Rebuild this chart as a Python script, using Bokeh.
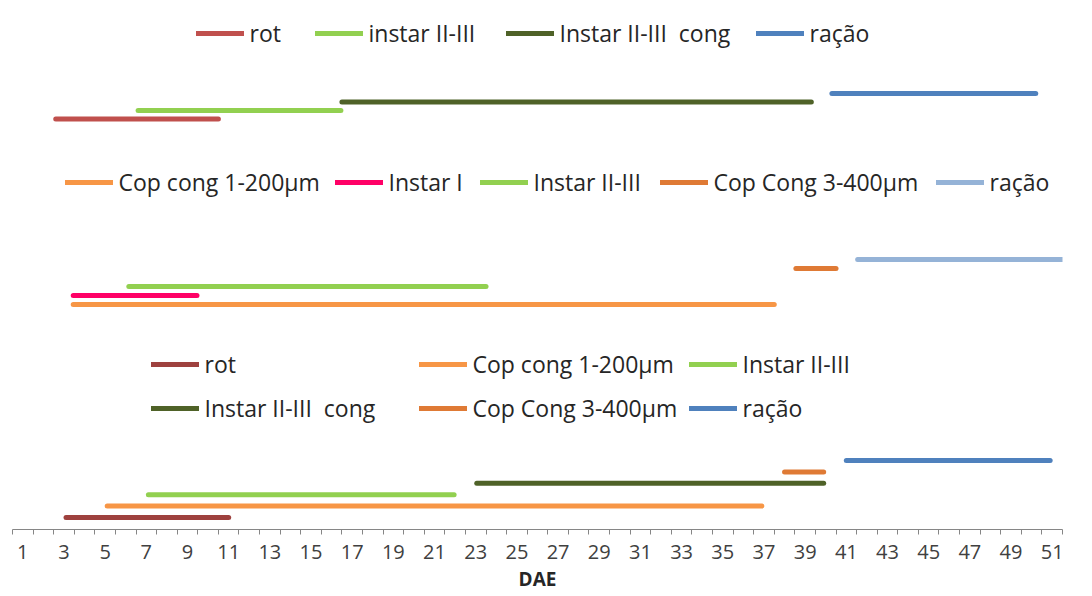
from bokeh.plotting import figure
from bokeh.models import Range1d, FixedTicker, Legend, LegendItem, Label
from bokeh.embed import file_html
from bokeh.resources import INLINE

# ---------------- data (days after emergence, DAE) ----------------
a_names = ["rot", "instar II-III", "Instar II-III  cong", "ração"]
a_start = [2.6, 6.6, 16.5, 40.3]
a_end = [10.5, 16.45, 39.3, 50.2]
a_lane = [0, 1, 2, 3]
a_colors = ["#C0504D", "#92D050", "#4F6228", "#4F81BD"]

b_names = ["Cop cong 1-200µm", "Instar I", "Instar II-III", "Cop Cong 3-400µm", "ração"]
b_start = [3.45, 3.45, 6.15, 38.55, 41.55]
b_end = [37.5, 9.46, 23.5, 40.5, 51.55]
b_lane = [0, 1, 2, 4, 5]
b_colors = ["#F79646", "#FF0066", "#92D050", "#DF7A35", "#95B3D7"]

c_names = ["rot", "Cop cong 1-200µm", "Instar II-III", "Instar II-III  cong", "Cop Cong 3-400µm", "ração"]
c_start = [3.1, 5.1, 7.1, 23.05, 38.0, 41.0]
c_end = [11.0, 36.9, 21.95, 39.9, 39.9, 50.9]
c_lane = [0, 1, 2, 3, 4, 5]
c_colors = ["#9E413E", "#F79646", "#92D050", "#4F6228", "#DF7A35", "#4F81BD"]

x_ticks = list(range(1, 52, 2))
x_bounds = [k + 0.5 for k in range(0, 52)]
x_title = "DAE"
panel_tags = ["A", "B", "C"]

# ---------------- layout (page pixels) ----------------
PAGE = 0
FRAME_L, FRAME_R, FRAME_T, FRAME_B = 12, 1062, 0, 529
W, H = 1092, 596
lane_base = {"A": 118.5, "B": 304, "C": 517}
lane_step = {"A": 8.5, "B": 9, "C": 11.4}
leg_rows = {
    "A": [(193, 33), (312, 33), (503, 33), (753, 33)],
    "B": [(62, 182), (332, 182), (477, 182), (657, 182), (933, 182)],
    "C": [(148, 364), (416, 364), (686, 364), (148, 408), (416, 408), (686, 408)],
}
tag_pos = {"A": (1072, 33), "B": (1078, 180), "C": (1078, 413)}
FONT = "Open Sans"
LW = 5
LEG_H = 34

p = figure(width=W, height=H, output_backend="svg", toolbar_location=None,
           x_range=Range1d(0.5, 51.5),
           y_range=Range1d(FRAME_B - PAGE, FRAME_T - PAGE),
           min_border_left=FRAME_L - PAGE, min_border_right=W - (FRAME_R - PAGE),
           min_border_top=0, min_border_bottom=H - (FRAME_B - PAGE))
p.outline_line_color = None
p.grid.visible = False
p.yaxis.visible = False

ax = p.xaxis[0]
ax.ticker = FixedTicker(ticks=x_ticks, minor_ticks=x_bounds)
ax.axis_line_color = "#868686"
ax.major_tick_line_color = None
ax.major_tick_out = 0
ax.major_tick_in = 0
ax.minor_tick_line_color = "#868686"
ax.minor_tick_out = 5
ax.minor_tick_in = 0
ax.major_label_text_font = FONT
ax.major_label_text_font_size = "20px"
ax.major_label_text_color = "#404040"
ax.major_label_standoff = 10
ax.axis_label = x_title
ax.axis_label_text_font = FONT
ax.axis_label_text_font_style = "bold"
ax.axis_label_text_font_size = "19px"
ax.axis_label_text_color = "#262626"
ax.axis_label_standoff = 4

panels = [
    ("A", a_names, a_start, a_end, a_lane, a_colors),
    ("B", b_names, b_start, b_end, b_lane, b_colors),
    ("C", c_names, c_start, c_end, c_lane, c_colors),
]

for tag, names, starts, ends, lanes, colors in panels:
    for i, (nm, s, e, ln, col) in enumerate(zip(names, starts, ends, lanes, colors)):
        yv = lane_base[tag] - ln * lane_step[tag] - PAGE
        r = p.line(x=[s, e], y=[yv, yv], line_width=LW, line_color=col, line_cap="round")
        gx, gy = leg_rows[tag][i]
        leg = Legend(items=[LegendItem(label=nm, renderers=[r])],
                     location=(gx + LW / 2 - FRAME_L, FRAME_B - gy - LEG_H / 2),
                     orientation="horizontal", padding=0, margin=0, spacing=0,
                     glyph_width=48, glyph_height=LEG_H, label_height=LEG_H,
                     label_standoff=6, label_text_font=FONT,
                     label_text_font_size="23px", label_text_color="#262626",
                     border_line_alpha=0, background_fill_alpha=0)
        p.add_layout(leg)
    tx, ty = tag_pos[tag]
    p.add_layout(Label(x=tx - FRAME_L, y=FRAME_B - ty, x_units="screen", y_units="screen",
                       text=tag, text_font=FONT, text_font_style="bold",
                       text_font_size="25px", text_align="center",
                       text_baseline="middle", text_color="#000000"))

open("out.html", "w").write(file_html(p, INLINE))
